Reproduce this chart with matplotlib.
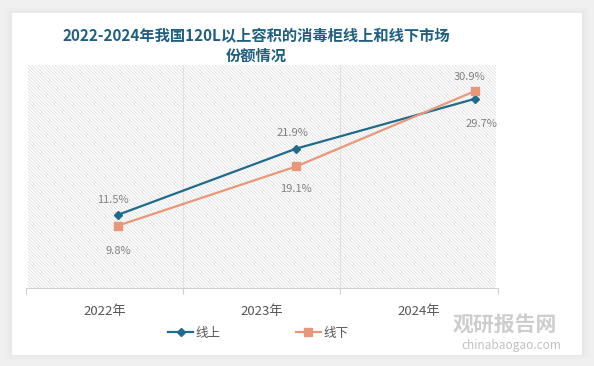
import matplotlib.pyplot as plt
from matplotlib.patches import Rectangle

plt.rcParams['font.family'] = ['Noto Sans CJK SC', 'DejaVu Sans']
plt.rcParams['hatch.linewidth'] = 0.5

years = ['2022年', '2023年', '2024年']
online = [11.5, 21.9, 29.7]
offline = [9.8, 19.1, 30.9]
online_name = '线上'
offline_name = '线下'
title = '2022-2024年我国120L以上容积的消毒柜线上和线下市场\n份额情况'

blue = '#1f6a8d'
orange = '#e89878'

fig = plt.figure(figsize=(5.94, 3.66), dpi=100)
fig.patch.set_facecolor('#f0f0f0')

# white card with a soft shadow
for i, a in enumerate([0.05, 0.05, 0.06]):
    d = (3 - i) * 0.004
    fig.patches.append(Rectangle((0.02 - d, 0.03 - d), 0.96 + 2 * d, 0.935 + 2 * d,
                                 transform=fig.transFigure, facecolor='#c8c8c8',
                                 alpha=a, edgecolor='none', zorder=-3))
fig.patches.append(Rectangle((0.02, 0.03), 0.96, 0.935, transform=fig.transFigure,
                             facecolor='white', edgecolor='none', zorder=-2))

ax = fig.add_axes([0.0438, 0.213, 0.794, 0.609])
ax.set_xlim(-0.5, 2.5)
ax.set_ylim(0, 35)
ax.set_facecolor('none')
ax.add_patch(Rectangle((0.004, 0), 0.992, 1, transform=ax.transAxes, facecolor='white',
                       edgecolor='#d9d9d9', hatch='\\' * 10, linewidth=0, zorder=0))
for s in ['top', 'right', 'left']:
    ax.spines[s].set_visible(False)
ax.spines['bottom'].set_color('#d0d0d0')
ax.set_xticks([-0.5, 0.5, 1.5, 2.5])
ax.set_xticklabels([])
ax.set_xticks(range(len(years)), minor=True)
ax.set_xticklabels(years, minor=True, color='#555555', fontsize=9.5)
ax.tick_params(axis='x', which='major', length=4, color='#d0d0d0')
ax.tick_params(axis='x', which='minor', length=0, pad=12)
ax.set_yticks([])
for b in [0.5, 1.5]:
    ax.axvline(b, color='#e0e0e0', lw=0.8, zorder=1)

# lines drawn on a twin axis offset against the category axis
ax2 = ax.twiny()
ax2.set_xlim(-0.516, 2.129)
ax2.set_ylim(0, 35)
ax2.axis('off')
xs = range(len(years))
ax2.plot(xs, online, color=blue, lw=1.6, marker='D', ms=4.5, label=online_name, zorder=3)
ax2.plot(xs, offline, color=orange, lw=1.6, marker='s', ms=5.5, label=offline_name, zorder=3)

lab = dict(color='#808080', fontsize=8, ha='center')
off_on = [(-0.03, 2.3), (-0.02, 2.5), (0.04, -4.0)]
off_off = [(0.0, -4.0), (0.0, -3.5), (-0.03, 2.3)]
for x, v, (dx, dy) in zip(xs, online, off_on):
    ax2.text(x + dx, v + dy, f'{v}%', va='center', **lab)
for x, v, (dx, dy) in zip(xs, offline, off_off):
    ax2.text(x + dx, v + dy, f'{v}%', va='center', **lab)

fig.text(0.432, 0.875, title, ha='center', va='center', fontsize=11,
         fontweight='bold', color='#1f5f80', linespacing=1.35)

fig.legend(loc='center', bbox_to_anchor=(0.435, 0.09), ncol=2, frameon=False,
           fontsize=9, handlelength=2.0, columnspacing=6, labelcolor='#555555',
           handletextpad=0.2)

# watermark
fig.text(0.85, 0.115, '观研报告网', ha='center', va='center', fontsize=15,
         fontweight='bold', color='#c8c8c8', alpha=0.9)
fig.text(0.86, 0.055, 'chinabaogao.com', ha='center', va='center', fontsize=8.5,
         color='#c0c0c0')

fig.savefig('out.png', dpi=100, facecolor=fig.get_facecolor())
